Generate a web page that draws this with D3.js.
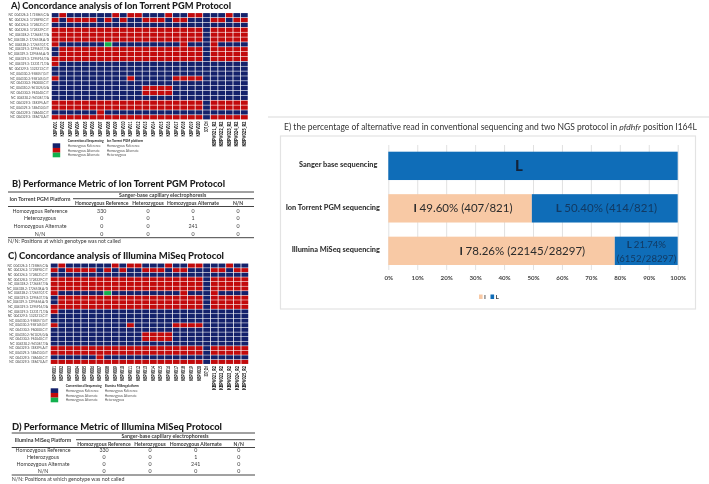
<!DOCTYPE html>
<html>

<head>
    <meta charset="utf-8">
    <title>Concordance analysis</title>
    <script src="https://d3js.org/d3.v7.min.js"></script>
    <style>
        html, body { margin: 0; padding: 0; background: #fff; }
        svg { display: block; font-family: Lato, "Open Sans", sans-serif; filter: blur(0.35px); }
    </style>
</head>

<body>
<svg id="fig" width="709" height="484"></svg>
<script>
    // genotype calls, one string per position: N = hom. reference, R = hom. alternate, G = heterozygous
    const genotypeRows = [
        "NRNNNNNNRNRRNNNRNNRRNNNRNN",
        "RNRRRRNRNRNNRRRNRRNNNRRNRR",
        "NNNNNNNNNNNNNNNNNNNNNNNNNN",
        "RRRRRRRRRRRRRRRRRRRRNRRRRR",
        "RRRRRRRRRRRRRRRRRRRRNRRRRR",
        "RRRRRRRRRRRRRRRRRRRRNRRRRR",
        "RNNNNNNGNNNNNNNNNRNNNRNNNN",
        "NRRRRRRRRRRRRRRRRRRRNRRRRR",
        "NRRRRRRRRRRRRRRRRRRRNRRRRR",
        "RRRRRRRRRRRRRRRRRRRRNRRRRR",
        "RNNNNNNNNNNNNNNNNNNNNNNNNN",
        "NNNNNNNNNNNNNNNNNNNNNNNNNN",
        "NNNNNNNNNNNNNNNNNNNNNNNNNN",
        "RNNNNNNNNNRNNNNNRRRRNNNNNN",
        "NNNNNNNNNNNNNNNNNNNNNNNNNN",
        "NNNNNNNNNNNNRRRRNNNNNNNNNN",
        "NNNNNNNNNNNNRRRRNNNNNNNNNN",
        "NNNNNNNNNNNNNNNNNNNNNNNNNN",
        "RRRRRRRRRRRRRRRRRRRRNRRRRR",
        "RRRRRRRRRRRRRRRRRRRRNRRRRR",
        "NNNNNNRNNNNNNNNNNNNNNNNNNN",
        "RRRRRRRRRRRRRRRRRRRRNRRRRR"
    ];
    const positionLabels = [
        "NC_004326.2: 1725865,C/A", "NC_004326.2: 1725890,C/T", "NC_004326.2: 1726021,C/T",
        "NC_004328.2: 1726329,C/T", "NC_004328.2: 1726467,T/A", "NC_004328.2: 1726538,A/G",
        "NC_004328.2: 1726570,T/C", "NC_004329.3: 1295637,T/A", "NC_004329.3: 1295656,A/G",
        "NC_004329.3: 1295916,T/A", "NC_004329.3: 1323171,T/A", "NC_004329.3: 1323213,C/T",
        "NC_004330.2: 958057,G/T", "NC_004330.2: 958145,G/T", "NC_004330.2: 960000,C/T",
        "NC_004330.2: 961025,G/A", "NC_004330.2: 961040,C/T", "NC_004330.2: 961067,T/A",
        "NC_004329.3: 748395,A/T", "NC_004329.3: 748410,G/T", "NC_004329.3: 748440,C/T",
        "NC_004329.3: 748470,A/T"
    ];
    const sampleLabels = [
        "KBPV001", "KBPV002", "KBPV003", "KBPV004", "KBPV005", "KBPV006", "KBPV007", "KBPV008",
        "KBPV009", "KBPV010", "KBPV011", "KBPV012", "KBPV013", "KBPV014", "KBPV015", "KBPV016",
        "KBPV017", "KBPV018", "KBPV019", "KBPV020", "3D7_Ctrl",
        "KBPV021_R2", "KBPV022_R2", "KBPV023_R2", "KBPV024_R2", "KBPV025_R2"
    ];
    const genotypeCodes = ["N", "R", "G"];
    const genotypeColors = ["#14216b", "#c20a0c", "#12b04e"];

    const legendA = ["Homozygous Reference", "Homozygous Alternate", "Homozygous Alternate"];
    const legendB = ["Homozygous Reference", "Homozygous Alternate", "Heterozygous"];

    const tableColumns = ["Homozygous Reference", "Heterozygous", "Homozygous Alternate", "N/N"];
    const tableRowNames = ["Homozygous Reference", "Heterozygous", "Homozygous Alternate", "N/N"];
    const tableValues = [
        [330, 0, 0, 0],
        [0, 0, 1, 0],
        [0, 0, 241, 0],
        [0, 0, 0, 0]
    ];

    const methods = ["Sanger base sequencing", "Ion Torrent PGM sequencing", "Illumina MiSeq sequencing"];
    const alleles = ["I", "L"];
    const iPercent = [0, 49.6, 78.26];
    const lPercent = [100, 50.4, 21.74];
    const xTicks = [0, 10, 20, 30, 40, 50, 60, 70, 80, 90, 100];

    const svg = d3.select("#fig");

    function title(txt, x, y, width) {
        svg.append("text")
            .attr("x", x)
            .attr("y", y)
            .attr("font-size", 10)
            .attr("font-weight", 900)
            .attr("textLength", width)
            .attr("lengthAdjust", "spacingAndGlyphs")
            .attr("fill", "#1c1c1c")
            .text(txt);
    }

    function drawHeatmap(x0, x1, y0, y1, shortLen, longLen, nameB, legend) {
        const g = svg.append("g");
        const xScale = d3.scaleBand().domain(d3.range(sampleLabels.length)).range([x0, x1]).padding(0.1);
        const yScale = d3.scaleBand().domain(d3.range(genotypeRows.length)).range([y0, y1]).padding(0.12);
        const colorScale = d3.scaleOrdinal().domain(genotypeCodes).range(genotypeColors);

        genotypeRows.forEach((row, r) => {
            g.selectAll(null)
                .data(row.split(""))
                .join("rect")
                .attr("x", (d, c) => xScale(c))
                .attr("y", yScale(r))
                .attr("width", xScale.bandwidth())
                .attr("height", yScale.bandwidth())
                .attr("fill", d => colorScale(d));
        });

        g.selectAll(".pos")
            .data(positionLabels)
            .join("text")
            .attr("class", "pos")
            .attr("x", x0 - 2)
            .attr("y", (d, i) => yScale(i) + yScale.bandwidth() / 2 + 1.2)
            .attr("text-anchor", "end")
            .attr("font-size", 3.2)
            .attr("fill", "#444")
            .text(d => d);

        g.selectAll(".sample")
            .data(sampleLabels)
            .join("text")
            .attr("class", "sample")
            .attr("transform", (d, i) =>
                "translate(" + (xScale(i) + xScale.bandwidth() / 2 + 1.5) + "," + (y1 + 1.5) + ") rotate(-90)")
            .attr("text-anchor", "end")
            .attr("font-size", 4.6)
            .attr("font-weight", 900)
            .attr("textLength", d => d.length > 8 ? longLen : (d.length > 7 ? shortLen * 0.7 : shortLen))
            .attr("lengthAdjust", "spacingAndGlyphs")
            .attr("fill", "#111")
            .text(d => d);

        // legend under the heatmap
        const swatch = d3.scaleBand().domain(genotypeCodes).range([legend.y, legend.y + 14]);
        g.selectAll(".swatch")
            .data(genotypeCodes)
            .join("rect")
            .attr("class", "swatch")
            .attr("x", legend.x)
            .attr("y", d => swatch(d))
            .attr("width", 7.5)
            .attr("height", swatch.bandwidth())
            .attr("fill", d => colorScale(d));

        [["Conventional Sequencing", legendA, legend.x + 15], [nameB, legendB, legend.x + 54]].forEach(col => {
            g.append("text")
                .attr("x", col[2])
                .attr("y", legend.y - 1.5)
                .attr("font-size", 3.2)
                .attr("font-weight", 700)
                .attr("fill", "#222")
                .text(col[0]);
            g.selectAll(null)
                .data(col[1])
                .join("text")
                .attr("x", col[2])
                .attr("y", (d, i) => legend.y + 3.6 + i * 4.6)
                .attr("font-size", 3.2)
                .attr("fill", "#555")
                .text(d => d);
        });
    }

    function drawTable(name, t) {
        const g = svg.append("g").attr("font-size", 5.3).attr("fill", "#3a3a3a");
        const rule = (x1, x2, y) => g.append("line")
            .attr("x1", x1).attr("x2", x2).attr("y1", y).attr("y2", y)
            .attr("stroke", "#444").attr("stroke-width", 1);

        rule(t.left, t.right, t.top);
        rule(t.subLeft, t.right, t.top + 6.7);
        rule(t.left, t.right, t.top + 14.5);
        rule(t.left, t.right, t.bottom);

        g.append("text")
            .attr("x", t.labelX)
            .attr("y", t.top + 8.6)
            .attr("text-anchor", "middle")
            .attr("font-weight", 700)
            .text(name);
        g.append("text")
            .attr("x", t.headX)
            .attr("y", t.top + 5)
            .attr("text-anchor", "middle")
            .attr("font-weight", 700)
            .text("Sanger-base capillary electrophoresis");

        g.selectAll(null)
            .data(tableColumns)
            .join("text")
            .attr("x", (d, i) => t.cols[i])
            .attr("y", t.top + 12.5)
            .attr("text-anchor", "middle")
            .attr("font-weight", 700)
            .attr("font-size", 5.1)
            .text(d => d);

        g.selectAll(null)
            .data(tableRowNames)
            .join("text")
            .attr("x", t.labelX)
            .attr("y", (d, i) => t.rows[i] + 2)
            .attr("text-anchor", "middle")
            .text(d => d);

        tableValues.forEach((row, r) => {
            g.selectAll(null)
                .data(row)
                .join("text")
                .attr("x", (d, i) => t.cols[i])
                .attr("y", t.rows[r] + 2)
                .attr("text-anchor", "middle")
                .text(d => d);
        });

        g.append("text")
            .attr("x", t.left)
            .attr("y", t.bottom + 5.5)
            .text("N/N: Positions at which genotype was not called");
    }

    title("A) Concordance analysis of Ion Torrent PGM Protocol", 11, 8.5, 220);
    drawHeatmap(51, 248.5, 12.5, 120, 15, 25, "Ion Torrent PGM platform", {x: 52.7, y: 143.3});

    title("B) Performance Metric of Ion Torrent PGM Protocol", 12, 187, 213);
    drawTable("Ion Torrent PGM Platform", {
        left: 8, right: 254, subLeft: 73, top: 192, bottom: 237.7, labelX: 40, headX: 162.7,
        cols: [101.7, 148, 193, 238], rows: [210.7, 218.3, 226, 233.7]
    });

    title("C) Concordance analysis of Illumina MiSeq Protocol", 8, 259, 216);
    drawHeatmap(50, 249, 263, 364.5, 15, 24, "Illumina MiSeq platform", {x: 50.7, y: 388.3});

    title("D) Performance Metric of Illumina MiSeq Protocol", 12, 429.5, 210);
    drawTable("Illumina MiSeq Platform", {
        left: 11.7, right: 255, subLeft: 76, top: 433, bottom: 475, labelX: 43, headX: 165,
        cols: [104, 150, 195.7, 238.7], rows: [450, 457.3, 464.3, 471.3]
    });

    // panel E
    svg.append("line")
        .attr("x1", 268).attr("x2", 709).attr("y1", 117).attr("y2", 117)
        .attr("stroke", "#e6e6e6").attr("stroke-width", 1.5);
    svg.append("rect")
        .attr("x", 280.5).attr("y", 136).attr("width", 415).attr("height", 173)
        .attr("fill", "#fff").attr("stroke", "#e3e3e3").attr("stroke-width", 1.2);

    const titleE = svg.append("text")
        .attr("x", 284)
        .attr("y", 130)
        .attr("font-size", 8.5)
        .attr("fill", "#333");
    titleE.append("tspan").text("E) the percentage of alternative read in conventional sequencing and two NGS protocol in ");
    titleE.append("tspan").attr("font-style", "italic").text("pfdhfr");
    titleE.append("tspan").text(" position I164L");

    const xScale = d3.scaleLinear().domain([0, 100]).range([388.3, 677.7]);
    const yScale = d3.scaleBand().domain(methods).range([144.6, 272.1]).paddingInner(0.333).paddingOuter(0.167);
    const alleleColor = d3.scaleOrdinal().domain(alleles).range(["#f8c9a5", "#0f6db8"]);

    const barData = methods.map((m, i) => ({method: m, I: iPercent[i], L: lPercent[i]}));
    const stacked = d3.stack().keys(alleles)(barData);

    const xAxis = d3.axisBottom(xScale)
        .tickValues(xTicks)
        .tickFormat(d => d + "%")
        .tickSize(-125)
        .tickPadding(6);
    const axisG = svg.append("g")
        .attr("transform", "translate(0,270)")
        .call(xAxis);
    axisG.select(".domain").remove();
    axisG.selectAll("line").attr("stroke", "#d9d9d9").attr("stroke-width", 0.8);
    axisG.selectAll("text")
        .attr("font-family", "Lato")
        .attr("font-size", 6.2)
        .attr("font-weight", 700)
        .attr("fill", "#444");

    stacked.forEach(layer => {
        svg.append("g")
            .selectAll("rect")
            .data(layer)
            .join("rect")
            .attr("x", d => xScale(d[0]))
            .attr("y", d => yScale(d.data.method))
            .attr("width", d => xScale(d[1]) - xScale(d[0]))
            .attr("height", yScale.bandwidth())
            .attr("fill", alleleColor(layer.key));
    });

    svg.append("g")
        .selectAll("text")
        .data(methods)
        .join("text")
        .attr("x", (d, i) => i === 0 ? 377.5 : 380)
        .attr("y", d => yScale(d) + yScale.bandwidth() / 2 + 1.5)
        .attr("text-anchor", "end")
        .attr("font-size", 7.4)
        .attr("font-weight", 900)
        .attr("fill", "#333")
        .text(d => d);

    // text on the bars, placed in axis units
    svg.append("text")
        .attr("x", xScale(45.1))
        .attr("y", yScale(methods[0]) + yScale.bandwidth() / 2 + 5.5)
        .attr("text-anchor", "middle")
        .attr("font-size", 15)
        .attr("font-weight", 900)
        .attr("fill", "#12233a")
        .text("L");

    function barLabel(letter, lines, method, at, size) {
        const cy = yScale(method) + yScale.bandwidth() / 2;
        lines.forEach((line, i) => {
            const t = svg.append("text")
                .attr("x", xScale(at))
                .attr("y", cy + 4 + (i - (lines.length - 1) / 2) * 14)
                .attr("text-anchor", "middle")
                .attr("font-size", size)
                .attr("fill", letter === "L" ? "#123a63" : "#2b2b2b");
            if (i === 0) t.append("tspan").attr("font-weight", 700).text(letter + " ");
            t.append("tspan").text(line);
        });
    }
    barLabel("I", ["49.60% (407/821)"], methods[1], 25.8, 11.5);
    barLabel("L", ["50.40% (414/821)"], methods[1], 75.4, 11.5);
    barLabel("I", ["78.26% (22145/28297)"], methods[2], 46.3, 11.5);
    barLabel("L", ["21.74%", "(6152/28297)"], methods[2], 89.2, 9.6);

    // legend of panel E
    const legendX = d3.scaleOrdinal().domain(alleles).range([479, 490.5]);
    const legendE = svg.append("g");
    legendE.selectAll("rect")
        .data(alleles)
        .join("rect")
        .attr("x", d => legendX(d))
        .attr("y", 294.5)
        .attr("width", 3.6)
        .attr("height", 4.5)
        .attr("fill", d => alleleColor(d));
    legendE.selectAll("text")
        .data(alleles)
        .join("text")
        .attr("x", d => legendX(d) + 5)
        .attr("y", 299)
        .attr("font-size", 6.4)
        .attr("font-weight", 700)
        .attr("fill", "#444")
        .text(d => d);
</script>

</body>

</html>
